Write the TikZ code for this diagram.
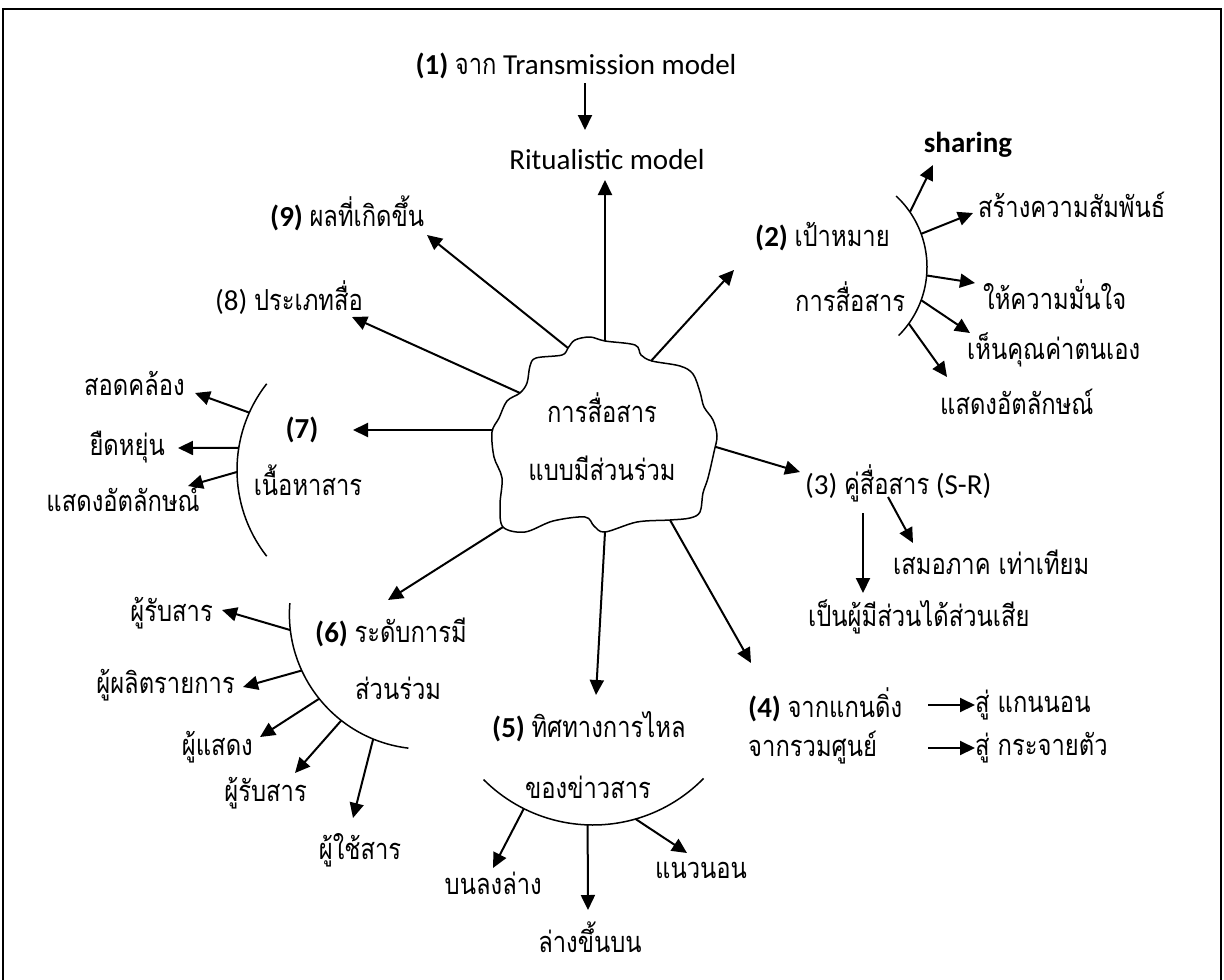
\documentclass[tikz,border=0pt]{standalone}
\usepackage{fontspec}
\setmainfont{Carlito}
\newfontfamily\thaif[Script=Thai,FakeStretch=0.82]{Loma}
\usetikzlibrary{arrows.meta,calc}
\newcommand{\thx}[1]{{\thaif #1}}
\begin{document}
\begin{tikzpicture}[x=1pt,y=-1pt,
  lbl/.style={inner sep=0pt, font=\fontsize{29}{34}\selectfont},
  arr/.style={line width=2pt,-{Triangle[length=15pt,width=14pt]}},
  arcl/.style={line width=1.5pt}]
\useasboundingbox (0,0) rectangle (1224,980);
\draw[line width=2.2pt] (3,985) -- (3,9) -- (1221,9) -- (1221,985);

% ---------- cloud ----------
\draw[line width=1.5pt] plot[smooth cycle, tension=0.55] coordinates {
 (568,348) (575,340) (590,337) (605,341) (635,345) (641,355) (652,361)
 (680,366) (693,374) (700,392) (704,407) (713,420) (717,436) (714,452)
 (708,478) (703,493) (700,512) (690,518) (670,520) (637,522) (605,532)
 (594,526) (585,517) (553,521) (525,532) (503,527) (500,505) (502,478)
 (494,457) (492,432) (499,418) (507,401) (520,393) (527,383) (530,366)
 (536,358) (562,355)};
\node[lbl] (c1) at (602,408) {\thx{การสื่อสาร}};
\node[lbl] (c2) at (602,468) {\thx{แบบมีส่วนร่วม}};
\coordinate (cT) at (605,341);
\coordinate (cTL) at (568,348);
\coordinate (cL1) at (520,393);
\coordinate (cL2) at (492,430);
\coordinate (cTR) at (651,361);
\coordinate (cR) at (716,447);
\coordinate (cBR) at (670,520);
\coordinate (cB) at (605,532);
\coordinate (cBL) at (503,527);

% ---------- (1) ----------
\node[lbl] (n1) at (576,66) {\textbf{(1)} \thx{จาก} Transmission model};
\node[lbl] (rit) at (607,160) {Ritualistic model};
\coordinate (n1s) at (585,83);
\coordinate (n1e) at (585,130);
\draw[arr] (n1s) -- (n1e);
\coordinate (ritb) at (605,180);
\draw[arr] (cT) -- (ritb);

% ---------- (9) (8) ----------
\node[lbl,anchor=west] (n9) at (270,213) {\textbf{(9)} \thx{ผลที่เกิดขึ้น}};
\coordinate (n9t) at (427,235);
\draw[arr] (cTL) -- (n9t);
\node[lbl,anchor=west] (n8) at (215,298) {(8) \thx{ประเภทสื่อ}};
\coordinate (n8t) at (352,317);
\draw[arr] (cL1) -- (n8t);

% ---------- (7) ----------
\node[lbl] (n7a) at (302,430) {\textbf{(7)}};
\node[lbl] (n7b) at (308,480) {\thx{เนื้อหาสาร}};
\coordinate (n7t) at (353,430);
\draw[arr] (cL2) -- (n7t);
\coordinate (k7) at (377,470);
\draw[arcl] ($(k7)+(142:140pt)$) arc[start angle=142, end angle=218, radius=140pt];
\node[lbl,anchor=east] (s71) at (185,383) {\thx{สอดคล้อง}};
\node[lbl,anchor=east] (s72) at (165,447) {\thx{ยืดหยุ่น}};
\node[lbl,anchor=east] (s73) at (200,499) {\thx{แสดงอัตลักษณ์}};
\coordinate (a71) at ($(k7)+(155.8:140pt)$);
\coordinate (a72) at ($(k7)+(170.9:140pt)$);
\coordinate (a73) at ($(k7)+(180.8:140pt)$);
\coordinate (t71) at (195,393);
\coordinate (t72) at (178,448);
\coordinate (t73) at (188,486);
\draw[arr] (a71) -- (t71);
\draw[arr] (a72) -- (t72);
\draw[arr] (a73) -- (t73);

% ---------- (6) ----------
\node[lbl,anchor=west] (n6a) at (315,632) {\textbf{(6)} \thx{ระดับการมี}};
\node[lbl,anchor=west] (n6b) at (355,688) {\thx{ส่วนร่วม}};
\coordinate (n6t) at (388,600);
\draw[arr] (cBL) -- (n6t);
\coordinate (k6) at (424.4,614.1);
\draw[arcl] ($(k6)+(175.3:135pt)$) arc[start angle=175.3, end angle=263.2, radius=135pt];
\node[lbl,anchor=east] (s61) at (213,613) {\thx{ผู้รับสาร}};
\node[lbl,anchor=east] (s62) at (235,685) {\thx{ผู้ผลิตรายการ}};
\node[lbl,anchor=east] (s63) at (253,747) {\thx{ผู้แสดง}};
\node[lbl,anchor=east] (s64) at (307,793) {\thx{ผู้รับสาร}};
\node[lbl] (s65) at (360,850) {\thx{ผู้ใช้สาร}};
\coordinate (a61) at ($(k6)+(186.8:135pt)$);
\coordinate (a62) at ($(k6)+(204.7:135pt)$);
\coordinate (a63) at ($(k6)+(218.8:135pt)$);
\coordinate (a64) at ($(k6)+(232:135pt)$);
\coordinate (a65) at ($(k6)+(247.7:135pt)$);
\coordinate (t61) at (222,610);
\coordinate (t62) at (243,687);
\coordinate (t63) at (260,737);
\coordinate (t64) at (295,773);
\coordinate (t65) at (353,818);
\draw[arr] (a61) -- (t61);
\draw[arr] (a62) -- (t62);
\draw[arr] (a63) -- (t63);
\draw[arr] (a64) -- (t64);
\draw[arr] (a65) -- (t65);

% ---------- (5) ----------
\node[lbl,anchor=west] (n5a) at (492,727) {\textbf{(5)} \thx{ทิศทางการไหล}};
\node[lbl] (n5b) at (588,787) {\thx{ของข่าวสาร}};
\coordinate (n5t) at (596,695);
\draw[arr] (cB) -- (n5t);
\coordinate (k5) at (593,670.5);
\draw[arcl] ($(k5)+(224.9:154.5pt)$) arc[start angle=224.9, end angle=315.7, radius=154.5pt];
\node[lbl,anchor=east] (s51) at (542,883) {\thx{บนลงล่าง}};
\node[lbl] (s52) at (590,937) {\thx{ล่างขึ้นบน}};
\node[lbl,anchor=west] (s53) at (655,870) {\thx{แนวนอน}};
\coordinate (a51) at ($(k5)+(243.4:154.5pt)$);
\coordinate (a52) at ($(k5)+(268:154.5pt)$);
\coordinate (a53) at ($(k5)+(286:154.5pt)$);
\coordinate (t51) at (493,868);
\coordinate (t52) at (588,910);
\coordinate (t53) at (687,853);
\draw[arr] (a51) -- (t51);
\draw[arr] (a52) -- (t52);
\draw[arr] (a53) -- (t53);

% ---------- (4) ----------
\coordinate (n4t) at (751,663);
\draw[arr] (cBR) -- (n4t);
\node[lbl,anchor=west] (n4a) at (748,705) {\textbf{(4)} \thx{จากแกนดิ่ง}};
\node[lbl,anchor=west] (n4b) at (975,705) {\thx{สู่ แกนนอน}};
\node[lbl,anchor=west] (n4c) at (748,748) {\thx{จากรวมศูนย์}};
\node[lbl,anchor=west] (n4d) at (975,748) {\thx{สู่ กระจายตัว}};
\coordinate (p41) at (928,705);
\coordinate (q41) at (975,705);
\coordinate (p42) at (928,748);
\coordinate (q42) at (975,748);
\draw[arr] (p41) -- (q41);
\draw[arr] (p42) -- (q42);

% ---------- (3) ----------
\coordinate (n3t) at (800,472);
\draw[arr] (cR) -- (n3t);
\node[lbl,anchor=west] (n3) at (805,483) {(3) \thx{คู่สื่อสาร} (S-R)};
\node[lbl,anchor=west] (s31) at (893,562) {\thx{เสมอภาค เท่าเทียม}};
\node[lbl,anchor=west] (s32) at (808,617) {\thx{เป็นผู้มีส่วนได้ส่วนเสีย}};
\coordinate (p31) at (863,513);
\coordinate (q31) at (863,593);
\coordinate (p32) at (888,497);
\coordinate (q32) at (913,543);
\draw[arr] (p31) -- (q31);
\draw[arr] (p32) -- (q32);

% ---------- (2) ----------
\coordinate (n2t) at (734,270);
\draw[arr] (cTR) -- (n2t);
\node[lbl,anchor=west] (n2a) at (755,237) {\textbf{(2)} \thx{เป้าหมาย}};
\node[lbl,anchor=west] (n2b) at (795,297) {\thx{การสื่อสาร}};
\coordinate (k2) at (830,267);
\draw[arcl] ($(k2)+(47:97pt)$) arc[start angle=47, end angle=-45, radius=97pt];
\node[lbl] (s21) at (968,145) {\textbf{sharing}};
\node[lbl,anchor=west] (s22) at (978,205) {\thx{สร้างความสัมพันธ์}};
\node[lbl,anchor=west] (s23) at (983,295) {\thx{ให้ความมั่นใจ}};
\node[lbl,anchor=west] (s24) at (967,350) {\thx{เห็นคุณค่าตนเอง}};
\node[lbl,anchor=west] (s25) at (940,402) {\thx{แสดงอัตลักษณ์}};
\coordinate (a21) at ($(k2)+(34.5:97pt)$);
\coordinate (a22) at ($(k2)+(20:97pt)$);
\coordinate (a23) at ($(k2)+(-5:97pt)$);
\coordinate (a24) at ($(k2)+(-20:97pt)$);
\coordinate (a25) at ($(k2)+(-35.7:97pt)$);
\coordinate (t21) at (933,165);
\coordinate (t22) at (973,213);
\coordinate (t23) at (975,283);
\coordinate (t24) at (970,333);
\coordinate (t25) at (947,377);
\draw[arr] (a21) -- (t21);
\draw[arr] (a22) -- (t22);
\draw[arr] (a23) -- (t23);
\draw[arr] (a24) -- (t24);
\draw[arr] (a25) -- (t25);
\end{tikzpicture}
\end{document}
